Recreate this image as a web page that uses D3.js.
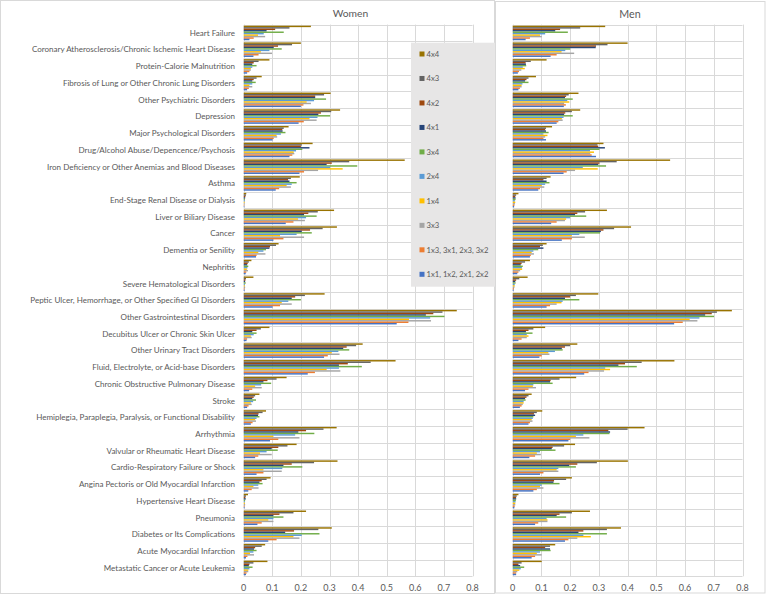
<!DOCTYPE html>
<html><head><meta charset="utf-8">
<script src="https://cdn.jsdelivr.net/npm/d3@7"></script>
<style>html,body{margin:0;padding:0;background:#fff;} svg{display:block;}</style>
</head><body>
<svg id="c" width="766" height="595"></svg>
<script>
const categories = ["Heart Failure","Coronary Atherosclerosis/Chronic Ischemic Heart Disease","Protein-Calorie Malnutrition","Fibrosis of Lung or Other Chronic Lung Disorders","Other Psychiatric Disorders","Depression","Major Psychological Disorders","Drug/Alcohol Abuse/Depencence/Psychosis","Iron Deficiency or Other Anemias and Blood Diseases","Asthma","End-Stage Renal Disease or Dialysis","Liver or Biliary Disease","Cancer","Dementia or Senility","Nephritis","Severe Hematological Disorders","Peptic Ulcer, Hemorrhage, or Other Specified GI Disorders","Other Gastrointestinal Disorders","Decubitus Ulcer or Chronic Skin Ulcer","Other Urinary Tract Disorders","Fluid, Electrolyte, or Acid-base Disorders","Chronic Obstructive Pulmonary Disease","Stroke","Hemiplegia, Paraplegia, Paralysis, or Functional Disability","Arrhythmia","Valvular or Rheumatic Heart Disease","Cardio-Respiratory Failure or Shock","Angina Pectoris or Old Myocardial Infarction","Hypertensive Heart Disease","Pneumonia","Diabetes or Its Complications","Acute Myocardial Infarction","Metastatic Cancer or Acute Leukemia"];

const seriesNames = ["4x4","4x3","4x2","4x1","3x4","2x4","1x4","3x3","1x3, 3x1, 2x3, 3x2","1x1, 1x2, 2x1, 2x2"];
const seriesColors = ["#997300","#636363","#9E480E","#264478","#70AD47","#5B9BD5","#FFC000","#A5A5A5","#ED7D31","#4472C4"];
const xTicks = [0,0.1,0.2,0.3,0.4,0.5,0.6,0.7,0.8];
const panelTitles = ["Women","Men"];

// Women
const w4x4 = [.235,.2,.09,.063,.304,.337,.157,.241,.563,.196,.009,.316,.326,.122,.027,.034,.283,.745,.09,.416,.531,.15,.055,.078,.325,.185,.328,.094,.015,.218,.308,.075,.083];
const w4x3 = [.16,.169,.052,.045,.281,.306,.14,.203,.369,.165,.008,.259,.276,.113,.018,.008,.214,.695,.06,.393,.444,.115,.04,.066,.279,.153,.246,.08,.008,.174,.261,.063,.034];
const w4x2 = [.11,.12,.035,.035,.25,.27,.135,.2,.308,.155,.006,.226,.232,.092,.014,.006,.18,.663,.045,.36,.364,.083,.035,.052,.218,.121,.168,.063,.006,.125,.176,.04,.02];
const w4x1 = [.08,.105,.03,.03,.25,.261,.136,.23,.29,.16,.005,.211,.203,.09,.012,.005,.168,.637,.03,.348,.333,.069,.03,.05,.191,.098,.139,.055,.007,.104,.145,.036,.018];
const w3x4 = [.14,.133,.045,.042,.288,.302,.146,.205,.397,.185,.004,.255,.238,.078,.016,.007,.2,.702,.045,.369,.413,.096,.043,.055,.247,.119,.205,.066,.005,.139,.265,.045,.031];
const w2x4 = [.07,.09,.03,.03,.246,.258,.13,.183,.302,.168,.004,.218,.185,.069,.013,.004,.156,.652,.035,.331,.333,.061,.033,.045,.18,.08,.135,.051,.004,.104,.203,.034,.02];
const w1x4 = [.05,.06,.025,.02,.22,.23,.115,.175,.346,.15,.003,.19,.127,.051,.011,.004,.133,.578,.025,.308,.29,.04,.025,.04,.104,.057,.069,.034,.004,.086,.174,.022,.016];
const w3x3 = [.075,.099,.025,.03,.235,.255,.117,.177,.26,.165,.003,.214,.211,.076,.015,.005,.168,.655,.028,.335,.338,.063,.028,.043,.195,.098,.133,.052,.005,.104,.195,.036,.016];
const w1x3 = [.035,.052,.02,.018,.209,.21,.105,.17,.211,.124,.002,.174,.139,.045,.009,.003,.127,.576,.012,.294,.249,.03,.017,.031,.121,.051,.069,.028,.003,.063,.115,.013,.01];
const w1x1 = [.02,.034,.012,.012,.2,.192,.101,.16,.195,.112,.002,.147,.104,.043,.007,.003,.101,.535,.01,.281,.224,.019,.012,.025,.092,.04,.045,.016,.003,.048,.086,.008,.008];

// Men
const m4x4 = [.322,.4,.118,.081,.229,.235,.137,.316,.548,.132,.02,.328,.412,.118,.06,.052,.298,.763,.113,.225,.563,.221,.066,.103,.459,.217,.401,.206,.02,.269,.377,.148,.101];
const m4x3 = [.235,.33,.063,.055,.195,.206,.116,.295,.362,.118,.012,.252,.353,.105,.043,.023,.22,.711,.072,.2,.449,.163,.055,.084,.4,.179,.293,.186,.014,.206,.328,.13,.031];
const m4x2 = [.165,.29,.045,.048,.186,.183,.113,.298,.302,.107,.009,.225,.316,.095,.031,.012,.2,.693,.055,.182,.391,.132,.048,.074,.333,.139,.225,.144,.012,.163,.246,.113,.02];
const m4x1 = [.148,.289,.046,.043,.182,.179,.116,.321,.298,.118,.01,.217,.307,.107,.028,.009,.182,.67,.046,.171,.368,.13,.043,.078,.339,.136,.197,.142,.012,.153,.229,.13,.026];
const m3x4 = [.192,.2,.047,.055,.209,.209,.125,.302,.325,.128,.01,.256,.304,.089,.035,.01,.232,.701,.069,.174,.432,.139,.045,.072,.337,.149,.22,.163,.011,.186,.328,.132,.04];
const m2x4 = [.113,.183,.035,.034,.19,.177,.107,.269,.244,.113,.008,.2,.232,.072,.032,.007,.174,.65,.049,.147,.322,.072,.038,.07,.246,.095,.159,.101,.01,.118,.246,.095,.028];
const m1x4 = [.095,.17,.042,.031,.197,.171,.121,.283,.296,.101,.009,.186,.206,.066,.033,.007,.17,.616,.055,.124,.339,.07,.038,.066,.22,.084,.153,.095,.009,.121,.272,.084,.023];
const m3x3 = [.101,.214,.03,.031,.179,.174,.113,.27,.217,.11,.008,.182,.251,.074,.026,.006,.153,.643,.049,.128,.318,.081,.035,.069,.267,.098,.159,.107,.009,.121,.225,.101,.016];
const m1x3 = [.06,.153,.022,.025,.185,.159,.107,.275,.188,.095,.006,.153,.206,.063,.02,.004,.13,.592,.031,.101,.264,.055,.031,.06,.2,.078,.107,.084,.007,.089,.194,.078,.012];
const m1x1 = [.045,.132,.018,.02,.178,.153,.116,.29,.177,.089,.005,.134,.171,.06,.016,.003,.118,.562,.02,.093,.249,.043,.025,.055,.194,.058,.095,.072,.006,.078,.182,.066,.012];

const womenSeries = [w4x4,w4x3,w4x2,w4x1,w3x4,w2x4,w1x4,w3x3,w1x3,w1x1];
const menSeries = [m4x4,m4x3,m4x2,m4x1,m3x4,m2x4,m1x4,m3x3,m1x3,m1x1];

const svg = d3.select("#c");
const FONT = "Lato, 'Open Sans', sans-serif";
const TXT = "#595959";
const GRID = "#d9d9d9";
const TOP = 24.6, BOTTOM = 576.3;

function fitText(sel, base, target) {
  const len = sel.node().getComputedTextLength();
  return base * target / len;
}

function drawPanel(g, series, x0, x1, title, titleX, titleY, titleW, showLabels) {
  const x = d3.scaleLinear().domain([0, 0.8]).range([x0, x1]);
  const y = d3.scaleBand().domain(categories).range([TOP, BOTTOM]).paddingInner(1.5/11.5).paddingOuter(0.75/11.5);
  const ys = d3.scaleBand().domain(seriesNames).range([0, y.bandwidth()]);
  const step = y.step();
  g.append("g").selectAll("line").data(xTicks).join("line")
    .attr("x1", d => Math.round(x(d)) + 0.5).attr("x2", d => Math.round(x(d)) + 0.5)
    .attr("y1", TOP).attr("y2", BOTTOM).attr("stroke", GRID).attr("stroke-width", 1);
  const bounds = d3.range(categories.length + 1).map(i => TOP + i * step);
  g.append("g").selectAll("line").data(bounds).join("line")
    .attr("x1", x(0)).attr("x2", x(0.8))
    .attr("y1", d => Math.round(d) + 0.5).attr("y2", d => Math.round(d) + 0.5)
    .attr("stroke", GRID).attr("stroke-width", 1);
  seriesNames.forEach((s, si) => {
    g.append("g").attr("fill", seriesColors[si]).selectAll("rect").data(series[si]).join("rect")
      .attr("x", x(0))
      .attr("y", (d, i) => y(categories[i]) + ys(s))
      .attr("width", d => x(d) - x(0))
      .attr("height", ys.bandwidth());
  });
  g.append("g").selectAll("text").data(xTicks).join("text")
    .attr("x", d => x(d)).attr("y", 590.5).attr("text-anchor", "middle")
    .attr("font-family", FONT).attr("font-size", 9).attr("fill", TXT)
    .text(d => d3.format("")(+d.toFixed(1)));
  const t = g.append("text").attr("x", titleX).attr("y", titleY).attr("text-anchor", "middle")
    .attr("font-family", FONT).attr("font-size", 13).attr("fill", TXT).text(title);
  t.attr("font-size", fitText(t, 13, titleW));
  if (showLabels) {
    const lab = g.append("g").selectAll("text").data(categories).join("text")
      .attr("x", 235).attr("y", d => y(d) + y.bandwidth() / 2).attr("dy", "0.35em")
      .attr("text-anchor", "end").attr("font-family", FONT).attr("font-size", 10).attr("fill", TXT)
      .text(d => d);
    lab.attr("font-size", fitText(lab.filter((d, i) => i === 1), 10, 203.5));
  }
}

svg.append("rect").attr("x", 0.5).attr("y", 0.5).attr("width", 494).attr("height", 593)
  .attr("fill", "#fff").attr("stroke", GRID);
drawPanel(svg.append("g"), womenSeries, 243.7, 472.5, panelTitles[0], 350.5, 16.5, 35.6, true);

const lg = svg.append("g");
lg.append("rect").attr("x", 411).attr("y", 42.7).attr("width", 90).attr("height", 244).attr("fill", "#e7e6e6");
const ly = d3.scalePoint().domain(seriesNames).range([54, 274.3]);
const ltexts = [];
seriesNames.forEach((s, i) => {
  lg.append("rect").attr("x", 419.5).attr("y", ly(s) - 2.5).attr("width", 5).attr("height", 5).attr("fill", seriesColors[i]);
  ltexts.push(lg.append("text").attr("x", 426.5).attr("y", ly(s)).attr("dy", "0.35em")
    .attr("font-family", FONT).attr("font-size", 9).attr("fill", TXT).text(s));
});
const lfs = fitText(ltexts[8], 9, 62);
ltexts.forEach(t => t.attr("font-size", lfs));

svg.append("rect").attr("x", 495.5).attr("y", 1.5).attr("width", 269.5).attr("height", 591.5)
  .attr("fill", "#fff").attr("stroke", GRID);
drawPanel(svg.append("g"), menSeries, 512.7, 742.5, panelTitles[1], 630, 18.3, 21.4, false);
</script>
</body></html>
